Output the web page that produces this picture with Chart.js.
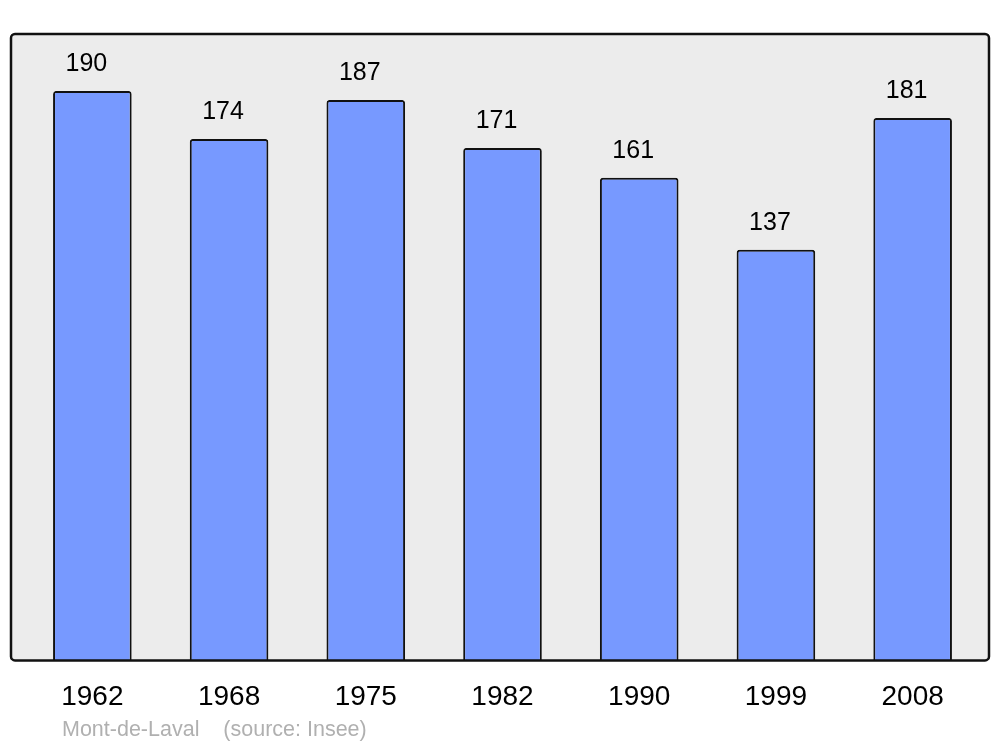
<!DOCTYPE html>
<html>
<head>
<meta charset="utf-8">
<script src="https://cdn.jsdelivr.net/npm/chart.js@4/dist/chart.umd.min.js"></script>
<style>
  html, body { margin: 0; padding: 0; background: #fff; }
  #wrap { width: 1000px; height: 747px; }
</style>
</head>
<body>
<div id="wrap"><canvas id="barChart"></canvas></div>
<script>
// population data
var years = ["1962", "1968", "1975", "1982", "1990", "1999", "2008"];
var population = [190, 174, 187, 171, 161, 137, 181];
var sourceText = "Mont-de-Laval    (source: Insee)";

// grey box behind the bars + source line under the axis
var frame = {
  id: "frame",
  beforeDraw: function(chart) {
    var ctx = chart.ctx, a = chart.chartArea;
    ctx.save();
    ctx.beginPath();
    ctx.roundRect(a.left - 13, a.top, a.right - a.left + 21, a.bottom - a.top, 4);
    ctx.fillStyle = "#ececec";
    ctx.fill();
    ctx.restore();
  },
  afterDatasetsDraw: function(chart) {
    var ctx = chart.ctx, a = chart.chartArea;
    ctx.save();
    ctx.beginPath();
    ctx.roundRect(a.left - 13, a.top, a.right - a.left + 21, a.bottom - a.top, 4);
    ctx.lineWidth = 2.5;
    ctx.strokeStyle = "#111";
    ctx.stroke();

    // value labels on top of bars
    ctx.fillStyle = "#000";
    ctx.font = "25px 'Liberation Sans', Arial, sans-serif";
    ctx.textAlign = "center";
    ctx.textBaseline = "middle";
    chart.getDatasetMeta(0).data.forEach(function(bar, i) {
      ctx.fillText(population[i], bar.x - 6, bar.y - 27);
    });

    ctx.fillStyle = "#b0b0b0";
    ctx.font = "21.5px 'Liberation Sans', Arial, sans-serif";
    ctx.textAlign = "left";
    ctx.fillText(sourceText, 62, 730);
    ctx.restore();
  }
};

var bar = document.getElementById("barChart");

var myBarChart = new Chart(bar, {
    type: 'bar',
    data: {
      labels: years,
      datasets: [{
        data: population,
        backgroundColor: "#7799ff",
        borderColor: "#111",
        borderWidth: 2,
        borderRadius: 3,
        borderSkipped: "bottom",
        barPercentage: 0.575,
        categoryPercentage: 1
      }]
    },
    options: {
      responsive: true,
      maintainAspectRatio: false,
      animation: false,
      layout: { padding: { left: 24, right: 19, top: 34, bottom: 21 } },
      plugins: { legend: { display: false }, tooltip: { enabled: false } },
      scales: {
        x: {
          grid: { display: false },
          border: { display: false },
          ticks: {
            color: "#000",
            padding: 12,
            font: { family: "'Liberation Sans', Arial, sans-serif", size: 28 }
          }
        },
        y: { display: false, min: 0, max: 209 }
      }
    },
    plugins: [frame]
});
</script>
</body>
</html>
